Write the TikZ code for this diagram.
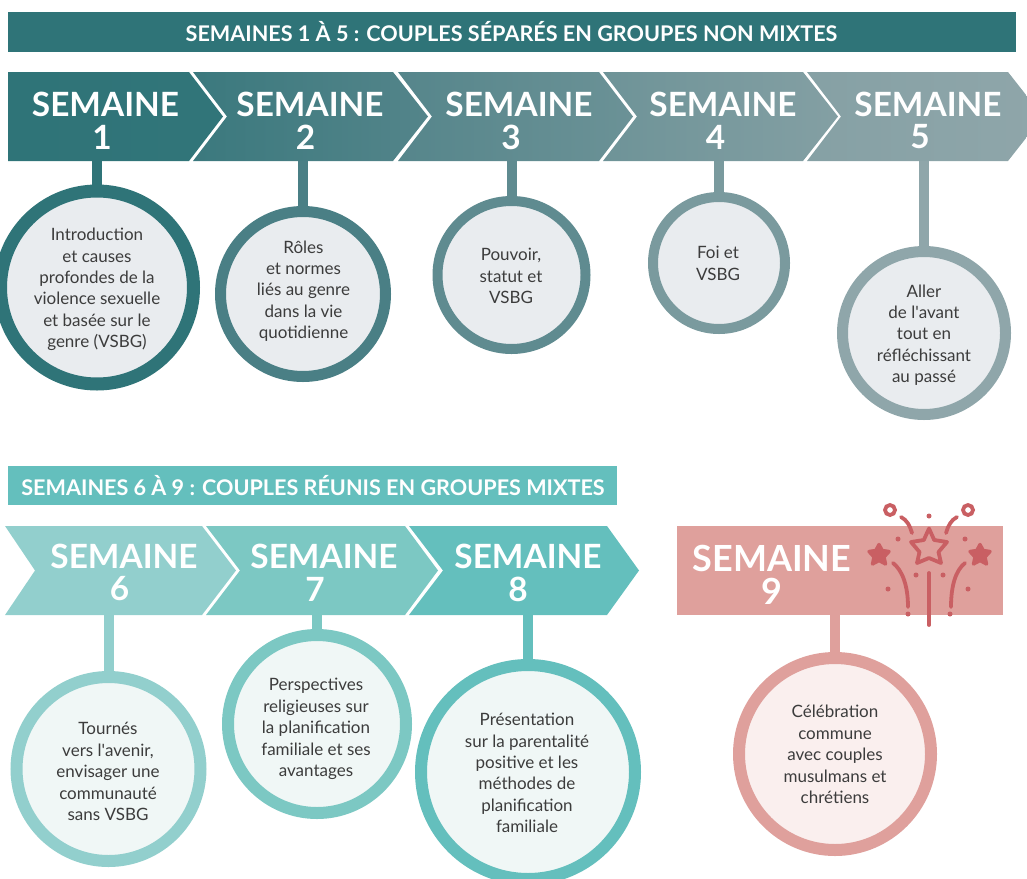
\documentclass[tikz,border=0pt]{standalone}
\usepackage{fontspec}
\setmainfont{Lato}
\definecolor{ca}{HTML}{2F7478}\definecolor{cb}{HTML}{4A7F85}\definecolor{cc}{HTML}{5F8B90}
\definecolor{cd}{HTML}{7A9A9E}\definecolor{ce}{HTML}{8FA6AA}
\definecolor{cf}{HTML}{92CFCD}\definecolor{cg}{HTML}{7CC8C3}\definecolor{ch}{HTML}{64BFBD}
\definecolor{ci}{HTML}{DFA09C}\definecolor{fw}{HTML}{C95F63}
\definecolor{grayfill}{HTML}{E9ECEF}\definecolor{tealfill}{HTML}{F0F7F6}\definecolor{pinkfill}{HTML}{FAEFEE}
\definecolor{body}{HTML}{3C3C3C}
\tikzset{
  x=1pt,y=-1pt,
  banner/.style={anchor=center,text=white,font=\fontsize{21.6}{24}\selectfont\bfseries,inner sep=0},
  wk/.style={anchor=center,text=white,font=\fontsize{33.4}{40}\selectfont\bfseries,inner sep=0},
  wkbig/.style={anchor=center,text=white,font=\fontsize{36}{40}\selectfont\bfseries,inner sep=0},
  bubble/.style={circle,inner sep=0},
  bubbletext/.style={inner sep=0,align=center,text=body,font=\fontsize{17}{21.4}\selectfont},
  stem/.style={line width=10pt},
  spark/.style={draw=fw,line width=3.8pt,line cap=round},
}
\begin{document}
\begin{tikzpicture}
\useasboundingbox (0,0) rectangle (1027,878);
\clip (0,0) rectangle (1027,878);
% banners
\fill[ca] (8,12) rectangle (1016,52);
\node[banner] (t1) at (511.5,32) {SEMAINES 1 À 5 : COUPLES SÉPARÉS EN GROUPES NON MIXTES};
\fill[ch] (8,466) rectangle (617,505);
\node[banner] (t2) at (313,486) {SEMAINES 6 À 9 : COUPLES RÉUNIS EN GROUPES MIXTES};
% top chevrons
\path[left color=ca,right color=ca!92!cb] (8,72) -- (189,72) -- (223,116.5) -- (189,161) -- (8,161) -- cycle;
\path[left color=ca!55!cb,right color=cb!55!cc] (193,72) -- (393,72) -- (428,116.5) -- (393,161) -- (193,161) -- (227,116.5) -- cycle;
\path[left color=cb!45!cc,right color=cc!55!cd] (398,72) -- (599,72) -- (633,116.5) -- (599,161) -- (398,161) -- (432,116.5) -- cycle;
\path[left color=cc!45!cd,right color=cd!55!ce] (603,72) -- (803,72) -- (838,116.5) -- (803,161) -- (603,161) -- (637,116.5) -- cycle;
\path[left color=cd!45!ce,right color=ce] (807,72) -- (1008,72) -- (1043,116.5) -- (1008,161) -- (807,161) -- (841,116.5) -- cycle;
% bottom chevrons
\fill[cf] (5,526) -- (202,526) -- (236,570.5) -- (202,615) -- (5,615) -- (35,570.5) -- cycle;
\fill[cg] (206,526) -- (405,526) -- (438,570.5) -- (405,615) -- (206,615) -- (240,570.5) -- cycle;
\fill[ch] (409,526) -- (607,526) -- (639,570.5) -- (607,615) -- (409,615) -- (443,570.5) -- cycle;
\fill[ci] (677,526) rectangle (1003,615);
% week labels
\node[wk] (w1) at (105.5,104) {SEMAINE}; \node[wk] (n1) at (102,137) {1};
\node[wk] (w2) at (310,104) {SEMAINE}; \node[wk] (n2) at (305.5,137) {2};
\node[wk] (w3) at (519,104) {SEMAINE}; \node[wk] (n3) at (511,137) {3};
\node[wk] (w4) at (723,104) {SEMAINE}; \node[wk] (n4) at (715.5,137) {4};
\node[wk] (w5) at (928,104) {SEMAINE}; \node[wk] (n5) at (920,137) {5};
\node[wk] (w6) at (124,556) {SEMAINE}; \node[wk] (n6) at (119.5,589) {6};
\node[wk] (w7) at (324,556) {SEMAINE}; \node[wk] (n7) at (315,589) {7};
\node[wk] (w8) at (528,556) {SEMAINE}; \node[wk] (n8) at (518,589) {8};
\node[wkbig] (w9) at (772,558) {SEMAINE}; \node[wkbig] (n9) at (771.5,591) {9};
% stem tops
\coordinate (b1) at (97,161);\coordinate (b2) at (303,161);\coordinate (b3) at (511.5,161);
\coordinate (b4) at (719,161);\coordinate (b5) at (924,161);
\coordinate (b6) at (108.5,615);\coordinate (b7) at (317,615);\coordinate (b8) at (528,615);\coordinate (b9) at (835,615);
% circles
\node[bubble,draw=ca,fill=grayfill,line width=13pt,minimum size=193pt] (c1) at (97,287.5) {};
\node[bubble,draw=cb,fill=grayfill,line width=11pt,minimum size=165pt] (c2) at (303,294) {};
\node[bubble,draw=cc,fill=grayfill,line width=10pt,minimum size=148pt] (c3) at (511.5,275) {};
\node[bubble,draw=cd,fill=grayfill,line width=10pt,minimum size=132pt] (c4) at (719,263) {};
\node[bubble,draw=ce,fill=grayfill,line width=11pt,minimum size=163pt] (c5) at (924,333) {};
\node[bubble,draw=cf,fill=tealfill,line width=12pt,minimum size=184pt] (c6) at (108.5,769) {};
\node[bubble,draw=cg,fill=tealfill,line width=12pt,minimum size=178pt] (c7) at (317,724) {};
\node[bubble,draw=ch,fill=tealfill,line width=12pt,minimum size=214pt] (c8) at (528,772) {};
\node[bubble,draw=ci,fill=pinkfill,line width=12pt,minimum size=192pt] (c9) at (835,754) {};
% bubble texts
\node[bubbletext] (x1) at (97,289.5) {Introduction\\et causes\\profondes de la\\violence sexuelle\\et basée sur le\\genre (VSBG)};
\node[bubbletext] (x2) at (303.5,291) {Rôles\\et normes\\liés au genre\\dans la vie\\quotidienne};
\node[bubbletext] (x3) at (511,276) {Pouvoir,\\statut et\\VSBG};
\node[bubbletext] (x4) at (718,263.5) {Foi et\\VSBG};
\node[bubbletext] (x5) at (924,335) {Aller\\de l\textquotesingle avant\\tout en\\réfléchissant\\au passé};
\node[bubbletext] (x6) at (108,771.5) {Tournés\\vers l\textquotesingle avenir,\\envisager une\\communauté\\sans VSBG};
\node[bubbletext] (x7) at (316,729) {Perspectives\\religieuses sur\\la planification\\familiale et ses\\avantages};
\node[bubbletext] (x8) at (527,773) {Présentation\\sur la parentalité\\positive et les\\méthodes de\\planification\\familiale};
\node[bubbletext] (x9) at (835,754.5) {Célébration\\commune\\avec couples\\musulmans et\\chrétiens};
% stems
\draw[stem,ca] (b1) -- (c1.north);
\draw[stem,cb] (b2) -- (c2.north);
\draw[stem,cc] (b3) -- (c3.north);
\draw[stem,cd] (b4) -- (c4.north);
\draw[stem,ce] (b5) -- (c5.north);
\draw[stem,cf] (b6) -- (c6.north);
\draw[stem,cg] (b7) -- (c7.north);
\draw[stem,ch] (b8) -- (c8.north);
\draw[stem,ci] (b9) -- (c9.north);
% fireworks
\draw[spark] (890,510) circle (5);
\draw[spark] (968,510) circle (5);
\draw[spark] (901,517) .. controls (907,520) and (910,526) .. (912,533);
\draw[spark] (957,517) .. controls (951,520) and (948,526) .. (946,533);
\draw[spark,line join=round] (929,528.5) -- (934.2,540) -- (947,542) -- (938.5,552) -- (941,563) -- (929,558) -- (917,563) -- (919.5,552) -- (911,542) -- (923.8,540) -- cycle;
\foreach \cx in {879,980}{
  \fill[fw,draw=fw,line width=3.4pt,line join=round] (\cx,544.5) -- (\cx+3.2,550.5) -- (\cx+10,551.5) -- (\cx+5,557) -- (\cx+6.5,564) -- (\cx,560.5) -- (\cx-6.5,564) -- (\cx-5,557) -- (\cx-10,551.5) -- (\cx-3.2,550.5) -- cycle;
}
\foreach \dx/\dy in {929/516,898/539,965/539,916/575,943/575,888/589,968/589,908/614,950/614}{
  \fill[fw] (\dx,\dy) circle (2.5);
}
\draw[spark] (929,573) -- (929,625);
\draw[spark] (893,563) .. controls (902,570) and (908,585) .. (908,607);
\draw[spark] (965,563) .. controls (956,570) and (951,585) .. (951,607);
\end{tikzpicture}
\end{document}
